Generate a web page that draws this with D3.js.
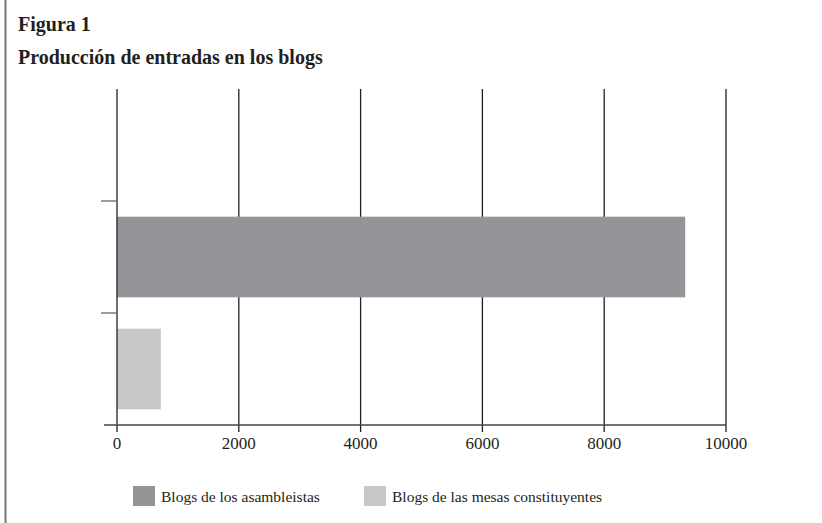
<!DOCTYPE html>
<html>
<head>
<meta charset="utf-8">
<script src="https://cdn.jsdelivr.net/npm/d3@7"></script>
<style>
  body { margin: 0; background: #fff; }
  svg { display: block; font-family: "Liberation Serif", "DejaVu Serif", serif; }
</style>
</head>
<body>
<script>
var w = 822,
    h = 523;

// data
var categories = ['Blogs de los asambleistas', 'Blogs de las mesas constituyentes'],
    values = [9330, 720],
    colors = ['#939598', '#c8c8ca'],
    xTicks = [0, 2000, 4000, 6000, 8000, 10000];

var svg = d3.select('body')
  .append('svg')
  .attr('width', w)
  .attr('height', h);

// left frame line
svg.append('line')
  .attr('x1', 5.5).attr('x2', 5.5)
  .attr('y1', 0).attr('y2', h)
  .attr('stroke', '#777').attr('stroke-width', 2);

// title
svg.append('text')
  .attr('x', 18).attr('y', 31)
  .attr('font-size', 20).attr('font-weight', 'bold').attr('fill', '#231f20')
  .text('Figura 1');
svg.append('text')
  .attr('x', 18).attr('y', 64)
  .attr('font-size', 20).attr('font-weight', 'bold').attr('fill', '#231f20')
  .text('Producción de entradas en los blogs');

var plotL = 117, plotR = 726, plotT = 89, plotB = 425;

var x = d3.scaleLinear().domain([0, 10000]).range([plotL, plotR]);

// blank slot on top, then the two categories
var y = d3.scaleBand()
  .domain([''].concat(categories))
  .range([plotT, plotB])
  .paddingInner(0.28)
  .paddingOuter(0.14);

var step = y.step();

// grid lines (with small ticks below axis)
svg.selectAll('line.grid')
  .data(xTicks.slice(1))
  .enter()
  .append('line')
  .classed('grid', true)
  .attr('x1', function(d) { return x(d); })
  .attr('x2', function(d) { return x(d); })
  .attr('y1', plotT)
  .attr('y2', plotB + 7)
  .attr('stroke', '#231f20')
  .attr('stroke-width', 1.3);

// bars
svg.selectAll('rect.bar')
  .data(values)
  .enter()
  .append('rect')
  .classed('bar', true)
  .attr('x', x(0))
  .attr('y', function(d, i) { return y(categories[i]); })
  .attr('width', function(d) { return x(d) - x(0); })
  .attr('height', y.bandwidth())
  .attr('fill', function(d, i) { return colors[i]; });

// y axis line + tick under 0
svg.append('line')
  .attr('x1', x(0)).attr('x2', x(0))
  .attr('y1', plotT).attr('y2', plotB + 7)
  .attr('stroke', '#231f20').attr('stroke-width', 1.3);

// x axis line
svg.append('line')
  .attr('x1', plotL - 13).attr('x2', plotR)
  .attr('y1', plotB).attr('y2', plotB)
  .attr('stroke', '#444').attr('stroke-width', 1.3);

// y category ticks at band boundaries
var yTickPos = [plotT + step, plotT + 2 * step];
svg.selectAll('line.ytick')
  .data(yTickPos)
  .enter()
  .append('line')
  .classed('ytick', true)
  .attr('x1', plotL - 16).attr('x2', plotL - 1)
  .attr('y1', function(d) { return d; })
  .attr('y2', function(d) { return d; })
  .attr('stroke', '#666').attr('stroke-width', 1.3);

// x tick labels
svg.selectAll('text.xlab')
  .data(xTicks)
  .enter()
  .append('text')
  .classed('xlab', true)
  .attr('x', function(d) { return x(d); })
  .attr('y', 449)
  .attr('text-anchor', 'middle')
  .attr('font-size', 17)
  .attr('fill', '#231f20')
  .text(function(d) { return d; });

// legend
var legendX = [133, 364];
var lg = svg.selectAll('g.legend')
  .data(categories)
  .enter()
  .append('g')
  .classed('legend', true)
  .attr('transform', function(d, i) { return 'translate(' + legendX[i] + ',486)'; });

lg.append('rect')
  .attr('width', 22).attr('height', 20)
  .attr('fill', function(d, i) { return colors[i]; });

lg.append('text')
  .attr('x', 28).attr('y', 16)
  .attr('font-size', 15.5)
  .attr('fill', '#231f20')
  .text(function(d) { return d; });
</script>
</body>
</html>
